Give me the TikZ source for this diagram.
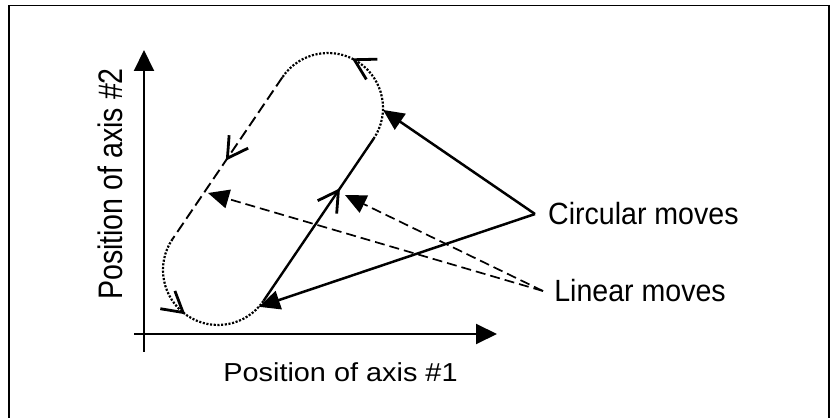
\documentclass[tikz,border=0pt]{standalone}
\usepackage{fontspec}
\setmainfont{Liberation Sans}
\usetikzlibrary{arrows.meta,decorations.markings,calc}

\begin{document}
\begin{tikzpicture}[
x=1pt, y=1pt,
axis/.style={line width=2pt, -{Triangle[length=21pt,width=20pt]}},
pointer/.style={line width=2.5pt, -{Triangle[length=21pt,width=19pt]}},
dashpointer/.style={pointer, line width=1.7pt, dash pattern=on 10pt off 5pt},
solidmove/.style={line width=2.4pt},
linmove/.style={line width=1.9pt, dash pattern=on 11pt off 5pt},
circmove/.style={line width=2.2pt, dash pattern=on 2.1pt off 1.6pt},
chevron/.style={postaction={decorate}, decoration={markings, mark=at position #1 with {\draw[solid, line width=2.8pt, line cap=butt, line join=miter] (-20pt,11.5pt) -- (0pt,0pt) -- (-20pt,-11.5pt);}}},
lbl/.style={inner sep=0pt, font=\fontsize{30.7}{34}\selectfont, xscale=0.93}
]
\useasboundingbox (0,0) rectangle (831,418);
\draw[line width=1.7pt] (9.3,-3) rectangle (829.2,412.5);

% axes
\coordinate (xstart) at (134,84);
\coordinate (xend) at (497,84);
\coordinate (ystart) at (144,66);
\coordinate (yend) at (144,368);
\draw[axis] (xstart) -- (xend);
\draw[axis] (ystart) -- (yend);
\node[anchor=base, inner sep=0pt, font=\fontsize{26}{30}\selectfont, xscale=1.11] (xlabel) at (340.5,36) {Position of axis \#1};
\node[anchor=base, inner sep=0pt, rotate=90, xscale=0.84, font=\fontsize{34}{40}\selectfont] (ylabel) at (122,234) {Position of axis \#2};

% the loop of moves
\coordinate (ctop) at (328,310);
\coordinate (cbot) at (218,148);
\coordinate (rt) at ($(ctop)+(-34:55)$);
\coordinate (lt) at ($(ctop)+(146:55)$);
\coordinate (lb) at ($(cbot)+(146:55)$);
\coordinate (rb) at ($(cbot)+(-34:55)$);
\draw[solidmove, chevron=0.68] (rb) -- (rt);
\draw[circmove, chevron=0.53] (rt) arc[start angle=-34, end angle=146, radius=55];
\draw[linmove, chevron=0.5] (lt) -- (lb);
\draw[circmove, chevron=0.47] (lb) arc[start angle=146, end angle=326, radius=55];

% labels and pointers
\node[lbl, anchor=base west, inner xsep=14pt] (circ) at (535,193) {Circular moves};
\node[lbl, anchor=base west, inner xsep=12pt] (lin) at (543,116) {Linear moves};
\coordinate (circA) at ($(ctop)+(-2:55)$);
\coordinate (circB) at ($(cbot)+(-42:55)$);
\coordinate (linA) at (208,225);
\coordinate (linB) at (345,223);
\draw[pointer] (circ.west) -- (circA);
\draw[pointer] (circ.west) -- (circB);
\draw[dashpointer] (lin.west) -- (linA);
\draw[dashpointer] (lin.west) -- (linB);
\end{tikzpicture}
\end{document}
